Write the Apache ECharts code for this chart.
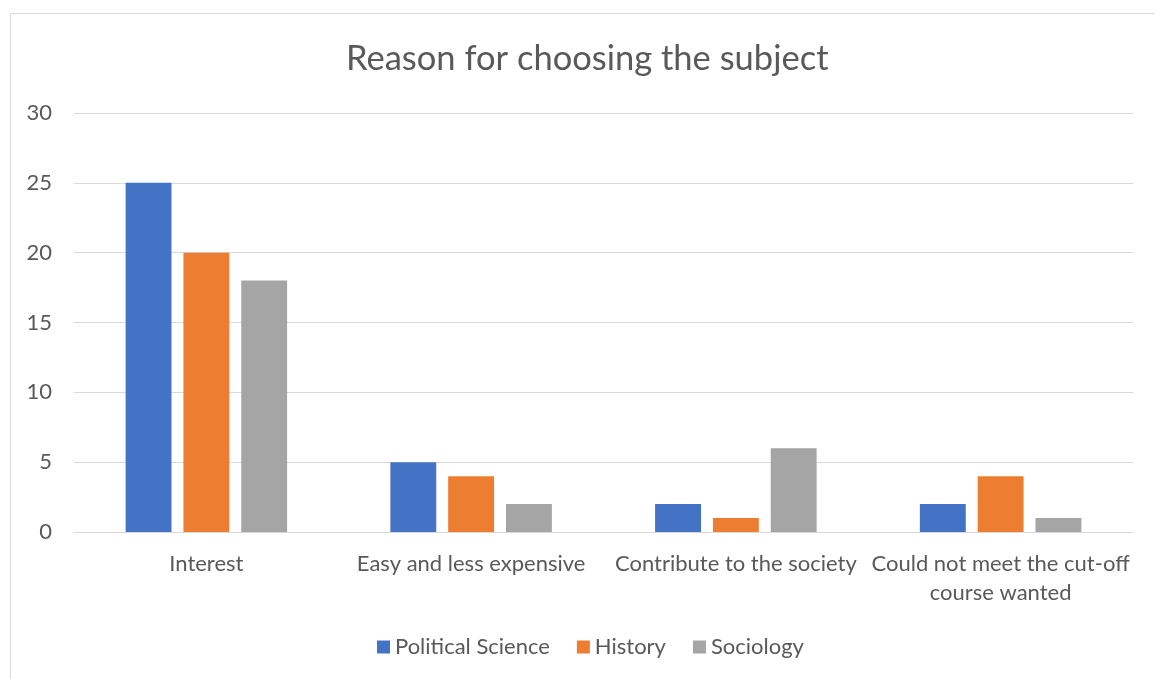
<!DOCTYPE html>
<html>
<head>
<meta charset="utf-8">
<script src="https://cdn.jsdelivr.net/npm/echarts@6/dist/echarts.min.js"></script>
<style>
  html, body { margin: 0; padding: 0; background: #ffffff; }
  #chart { width: 1155px; height: 679px; }
</style>
</head>
<body>
<div id="chart"></div>
<script>
// Survey responses: why students chose their subject
const categories = [
  'Interest',
  'Easy and less expensive',
  'Contribute to the society',
  'Could not meet the cut-off\ncourse wanted'
];
const seriesNames = ['Political Science', 'History', 'Sociology'];
const politicalScience = [25, 5, 2, 2];
const history = [20, 4, 1, 4];
const sociology = [18, 2, 6, 1];
const yTicks = [0, 5, 10, 15, 20, 25, 30];

const colors = ['#4472C4', '#ED7D31', '#A5A5A5'];
const textColor = '#595959';
const fontFamily = 'Lato, "Open Sans", sans-serif';

const chart = echarts.init(document.getElementById('chart'), null, { renderer: 'canvas' });

const values = [politicalScience, history, sociology];

chart.setOption({
  animation: false,
  color: colors,
  textStyle: { fontFamily: fontFamily, color: textColor },
  title: {
    text: 'Reason for choosing the subject',
    left: 341,
    top: 36,
    textStyle: { fontFamily: fontFamily, fontSize: 34.5, fontWeight: 'normal', color: textColor }
  },
  graphic: [{
    type: 'rect',
    silent: true,
    shape: { x: 10.5, y: 13.5, width: 1160, height: 700 },
    style: { fill: 'none', stroke: '#d9d9d9', lineWidth: 1 }
  }],
  legend: {
    data: seriesNames,
    top: 631,
    left: 372,
    itemWidth: 13,
    itemHeight: 13,
    itemGap: 27,
    icon: 'rect',
    textStyle: { fontFamily: fontFamily, fontSize: 22, color: textColor, padding: [0, 0, 0, 0] }
  },
  grid: { left: 74, right: 22, top: 113, bottom: 147, containLabel: false },
  xAxis: {
    type: 'category',
    data: categories,
    axisLine: { lineStyle: { color: '#d9d9d9', width: 1 } },
    axisTick: { show: false },
    axisLabel: {
      interval: 0,
      margin: 17,
      fontSize: 22,
      lineHeight: 29,
      color: textColor,
      fontFamily: fontFamily
    }
  },
  yAxis: {
    type: 'value',
    min: yTicks[0],
    max: yTicks[yTicks.length - 1],
    interval: yTicks[1] - yTicks[0],
    axisLine: { show: false },
    axisTick: { show: false },
    splitLine: { lineStyle: { color: '#d9d9d9', width: 1 } },
    axisLabel: { margin: 22, fontSize: 22, color: textColor, fontFamily: fontFamily }
  },
  series: seriesNames.map((name, i) => ({
    name: name,
    type: 'bar',
    data: values[i],
    barGap: '26%',
    barCategoryGap: '39%',
    itemStyle: { color: colors[i] }
  }))
});
</script>
</body>
</html>
